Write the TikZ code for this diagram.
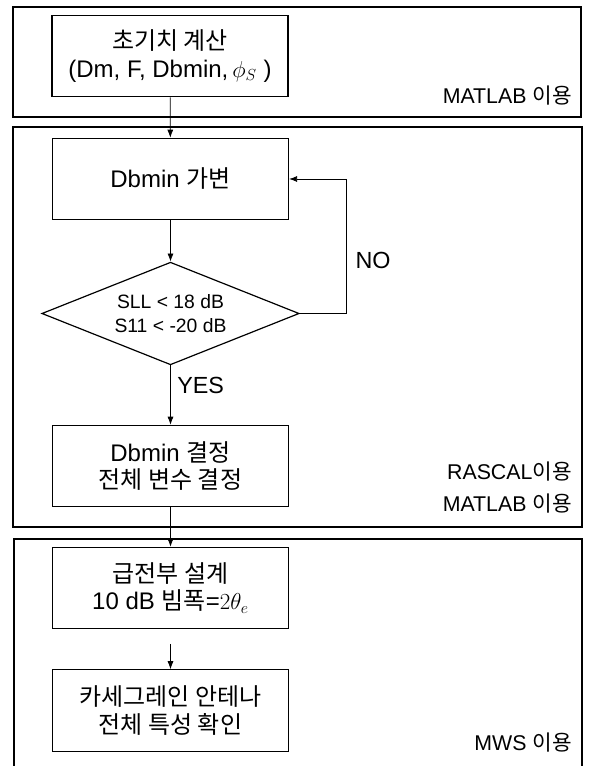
\documentclass[tikz,border=0pt]{standalone}
\usepackage{fontspec}
\setmainfont{Liberation Sans}
\newfontfamily\kr{Noto Sans CJK KR}
\newcommand\ko[1]{{\kr #1}}
\usetikzlibrary{shapes.geometric,arrows.meta}
\tikzset{
  stage/.style={draw, line width=0.9pt, minimum width=177pt, minimum height=61pt,
    align=center, inner sep=2pt, font=\fontsize{18}{20.5}\selectfont},
  test/.style={draw, diamond, aspect=2.5, line width=0.9pt, minimum width=193pt,
    minimum height=77pt, inner sep=0pt, align=center, font=\fontsize{14.5}{18.5}\selectfont},
  panel/.style={line width=0.9pt},
  tool/.style={anchor=east, inner sep=0pt, font=\fontsize{16}{18}\selectfont},
  answer/.style={inner sep=0pt, font=\fontsize{17.5}{20}\selectfont},
  flow/.style={line width=0.6pt, -{Latex[length=6pt,width=4.5pt]}}
}

\begin{document}
\begin{tikzpicture}[x=0.75pt,y=-0.75pt]
\useasboundingbox (0,0) rectangle (590,766);

\draw[panel] (13,7) rectangle (581,117);
\draw[panel] (13,127) rectangle (582,527);
\draw[panel] (14,766) -- (14,539) -- (582,539) -- (582,766);

\node[stage] (init) at (170,56) {\ko{초기치 계산}\\(Dm, F, Dbmin,\,$\phi_S$ )};
\node[stage] (vary) at (170.5,179) {Dbmin \ko{가변}};
\node[test] (cond) at (170.5,313.5) {SLL < 18 dB\\S11 < -20 dB};
\node[stage] (fix) at (170.5,466) {Dbmin \ko{결정}\\\ko{전체 변수 결정}};
\node[stage] (feed) at (170.5,588) {\ko{급전부 설계}\\ 10 dB \ko{빔폭}=$2\theta_e$};
\node[stage] (check) at (170.5,710.5) {\ko{카세그레인 안테나}\\\ko{전체 특성 확인}};

\node[tool] (tool1) at (572,96) {MATLAB \ko{이용}};
\node[tool] (tool2a) at (572,472) {RASCAL\ko{이용}};
\node[tool] (tool2b) at (572,504) {MATLAB \ko{이용}};
\node[tool] (tool3) at (572,743) {MWS \ko{이용}};

\node[answer] (no) at (373,260) {NO};
\node[answer, anchor=west] (yes) at (177,385) {YES};

\draw[flow] (init) -- (vary);
\draw[flow] (vary) -- (cond);
\draw[flow] (cond.east) -- ++(47,0) |- (vary.east);
\draw[flow] (cond) -- (fix);
\draw[flow] (fix) -- (feed);
\draw[flow, shorten <=11pt] (feed) -- (check);
\end{tikzpicture}
\end{document}
